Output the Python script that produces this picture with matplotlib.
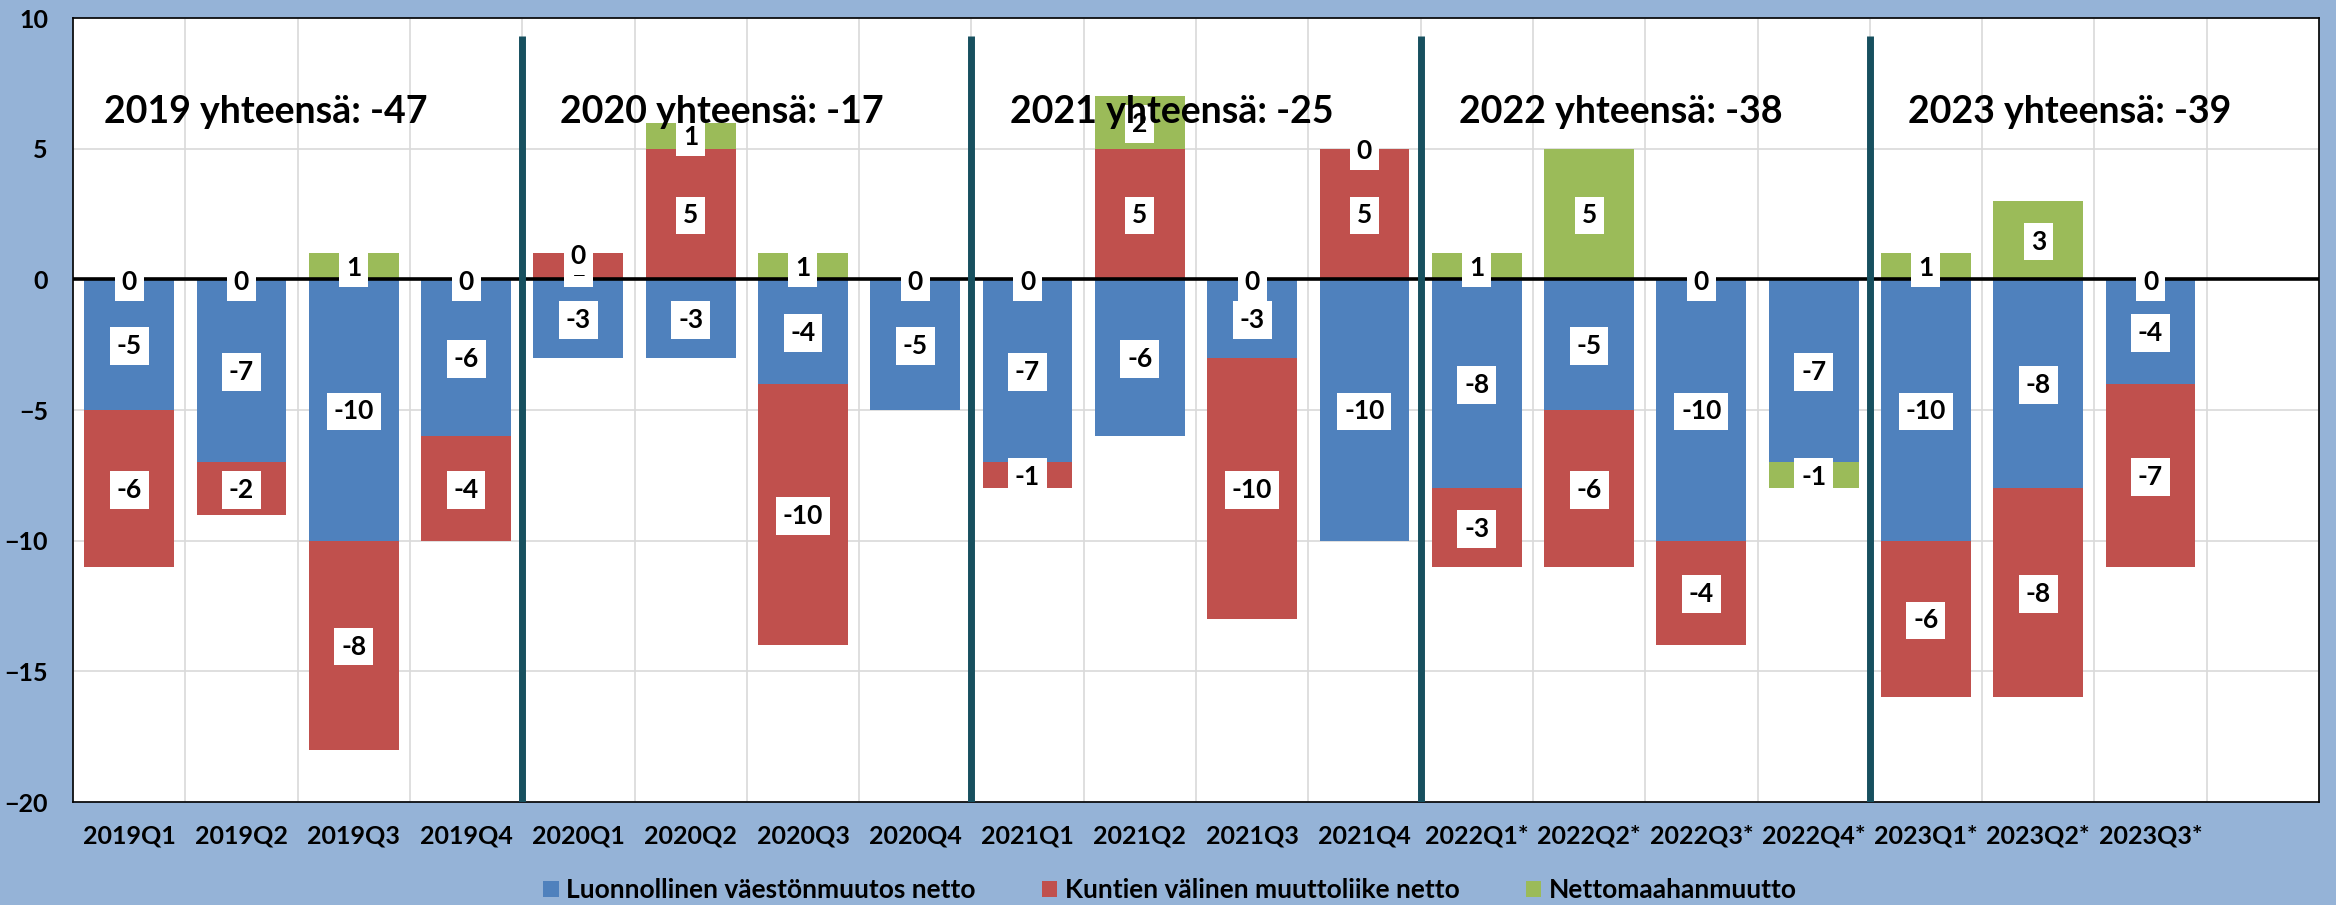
import matplotlib
matplotlib.use("Agg")
import matplotlib.pyplot as plt
from matplotlib.patches import Patch

plt.rcParams['font.family'] = ['Lato', 'DejaVu Sans']
plt.rcParams['font.weight'] = 'bold'

categories = ["2019Q1", "2019Q2", "2019Q3", "2019Q4",
              "2020Q1", "2020Q2", "2020Q3", "2020Q4",
              "2021Q1", "2021Q2", "2021Q3", "2021Q4",
              "2022Q1*", "2022Q2*", "2022Q3*", "2022Q4*",
              "2023Q1*", "2023Q2*", "2023Q3*"]

luonnollinen = [-5, -7, -10, -6,
                -3, -3, -4, -5,
                -7, -6, -3, -10,
                -8, -5, -10, -7,
                -10, -8, -4]
kuntien = [-6, -2, -8, -4,
           1, 5, -10, None,
           -1, 5, -10, 5,
           -3, -6, -4, None,
           -6, -8, -7]
nettomaahan = [0, 0, 1, 0,
               0, 1, 1, 0,
               0, 2, 0, 0,
               1, 5, 0, -1,
               1, 3, 0]

series_names = ["Luonnollinen väestönmuutos netto",
                "Kuntien välinen muuttoliike netto",
                "Nettomaahanmuutto"]
series_colors = ["#4F81BD", "#C0504D", "#9BBB59"]

year_titles = ["2019 yhteensä: -47", "2020 yhteensä: -17", "2021 yhteensä: -25",
               "2022 yhteensä: -38", "2023 yhteensä: -39"]

W, H = 2336, 905
fig = plt.figure(figsize=(W / 100, H / 100), dpi=100)
fig.patch.set_facecolor("#95B3D7")
ax = fig.add_axes([73 / W, 1 - 802 / H, (2319 - 73) / W, (802 - 18) / H])
ax.set_facecolor("white")

n = len(categories)
x = list(range(n))
bar_w = 0.8

pos_base = [0.0] * n
neg_base = [0.0] * n
labels_to_draw = []
for s_idx, (vals, col) in enumerate(zip([luonnollinen, kuntien, nettomaahan], series_colors)):
    for i, v in enumerate(vals):
        if v is None:
            continue
        if v >= 0:
            b = pos_base[i]
            pos_base[i] += v
        else:
            b = neg_base[i]
            neg_base[i] += v
        if v != 0:
            ax.bar(i, v, bottom=b, width=bar_w, color=col, zorder=2, linewidth=0)
        labels_to_draw.append((i, b + v / 2.0, v, s_idx))

for i, yc, v, s_idx in labels_to_draw:
    off = -2 if v == 0 else -1
    ax.annotate(str(v), (i, yc), xytext=(0, off), textcoords="offset points",
                ha="center", va="center", fontsize=19, fontweight="bold", color="black",
                bbox=dict(boxstyle="square,pad=0.26", fc="white", ec="none"),
                zorder=5 + s_idx * 0.1)

ax.axhline(0, color="black", lw=2.6, zorder=3)

for k in range(1, 5):
    ax.vlines(4 * k - 0.5, -20, 9.3, color="#17505F", lw=5, zorder=4)

for k, t in enumerate(year_titles):
    x0 = -0.22 if k == 0 else 4 * k - 0.16
    ax.text(x0, 6.0, t, ha="left", va="baseline", fontsize=27, fontweight="bold",
            color="black", zorder=7)

ax.set_xlim(-0.5, n + 0.5)
ax.set_ylim(-20, 10)
ax.set_yticks(range(-20, 11, 5))
ax.set_xticks(x)
ax.set_xticklabels(categories)
ax.set_xticks([i - 0.5 for i in range(n + 2)], minor=True)
ax.grid(axis="y", which="major", color="#D9D9D9", lw=1.2, zorder=0)
ax.grid(axis="x", which="minor", color="#D9D9D9", lw=1.2, zorder=0)
ax.grid(axis="x", which="major", visible=False)
ax.tick_params(axis="both", which="both", length=0)
ax.tick_params(axis="y", pad=18, labelsize=18)
ax.tick_params(axis="x", pad=16, labelsize=18)
for lab in ax.get_xticklabels() + ax.get_yticklabels():
    lab.set_fontweight("bold")
for sp in ax.spines.values():
    sp.set_color("black")
    sp.set_linewidth(1.2)
ax.set_axisbelow(True)

handles = [Patch(facecolor=c, edgecolor="none") for c in series_colors]
fig.legend(handles, series_names, loc="center", bbox_to_anchor=(1170 / W, 1 - 890 / H),
           ncol=3, frameon=False, prop=dict(size=19, weight="bold"),
           handlelength=0.57, handleheight=0.57, handletextpad=0.3, columnspacing=2.5)

fig.savefig("out.png", dpi=100, facecolor=fig.get_facecolor())
